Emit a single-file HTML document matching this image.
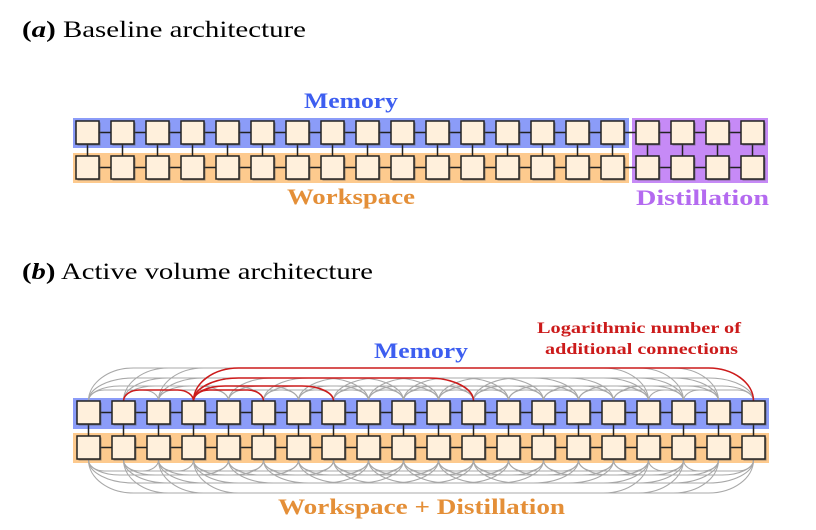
<!DOCTYPE html>
<html><head><meta charset="utf-8"><style>
html,body{margin:0;padding:0;background:#fff}
body{width:816px;height:530px;overflow:hidden}
svg{display:block}
text{font-family:"Liberation Serif",serif}
</style></head><body>
<svg id="s" width="816" height="530" viewBox="0 0 816 530" xmlns="http://www.w3.org/2000/svg">
<text x="22" y="37" font-size="23" textLength="284" lengthAdjust="spacingAndGlyphs"><tspan font-weight="bold">(</tspan><tspan font-weight="bold" font-style="italic">a</tspan><tspan font-weight="bold">)</tspan> Baseline architecture</text>
<text x="22" y="279" font-size="23" textLength="351" lengthAdjust="spacingAndGlyphs"><tspan font-weight="bold">(</tspan><tspan font-weight="bold" font-style="italic">b</tspan><tspan font-weight="bold">)</tspan> Active volume architecture</text>
<rect x="73" y="118" width="556" height="30" fill="#8b9cf8"/>
<rect x="73" y="153" width="556" height="30" fill="#fdca8e"/>
<rect x="632" y="118" width="136" height="65" fill="#c68af6"/>
<rect x="73" y="398" width="696" height="31" fill="#8b9cf8"/>
<rect x="73" y="433" width="696" height="30" fill="#fdca8e"/>
<g id="arcs" fill="none" stroke-width="1.2"></g>
<g id="lines" stroke="#222" stroke-width="1.5"></g>
<g id="boxes"></g>
<text x="304" y="108" font-size="22" font-weight="bold" fill="#3d5ef0" textLength="94" lengthAdjust="spacingAndGlyphs">Memory</text>
<text x="287" y="204" font-size="22" font-weight="bold" fill="#e48f38" textLength="128" lengthAdjust="spacingAndGlyphs">Workspace</text>
<text x="636" y="205" font-size="22" font-weight="bold" fill="#b46af0" textLength="133" lengthAdjust="spacingAndGlyphs">Distillation</text>
<text x="374" y="358" font-size="22" font-weight="bold" fill="#3d5ef0" textLength="94" lengthAdjust="spacingAndGlyphs">Memory</text>
<text x="278" y="514" font-size="22" font-weight="bold" fill="#e48f38" textLength="287" lengthAdjust="spacingAndGlyphs">Workspace + Distillation</text>
<text x="537" y="333" font-size="16" font-weight="bold" fill="#cc1b1b" textLength="204" lengthAdjust="spacingAndGlyphs">Logarithmic number of</text>
<text x="545" y="354" font-size="16" font-weight="bold" fill="#cc1b1b" textLength="193" lengthAdjust="spacingAndGlyphs">additional connections</text>
</svg>
<script>
var NS="http://www.w3.org/2000/svg";
function el(p,t,a){var e=document.createElementNS(NS,t);for(var k in a)e.setAttribute(k,a[k]);document.getElementById(p).appendChild(e);return e;}
function box(x,y){el("boxes","rect",{x:x+1.5,y:y+1.5,width:23,height:23,fill:"#555",opacity:"0.6"});el("boxes","rect",{x:x,y:y,width:23,height:23,fill:"#fff0dc",stroke:"#222","stroke-width":1.5});}
function line(x1,y1,x2,y2){el("lines","line",{x1:x1,y1:y1,x2:x2,y2:y2});}
for(var i=0;i<20;i++){var x=76+i*35;box(x,121);box(x,156);line(x+11.5,144,x+11.5,156);if(i<19){line(x+23,132.5,x+35,132.5);line(x+23,167.5,x+35,167.5);}}
var H={2:11,4:15,8:23,16:33};
function arc(i,j,up,col,w){var x1=77+i*35+11.5,x2=77+j*35+11.5,d=j-i,h=H[d],y0=up?401:460,s=up?-1:1,Y=y0+s*h,r=Math.min(d*17.5*0.45,45),k=0.55;
var p="M"+x1+" "+y0+" C"+x1+" "+(y0+s*h*k)+" "+(x1+r*(1-k))+" "+Y+" "+(x1+r)+" "+Y+" L"+(x2-r)+" "+Y+" C"+(x2-r*(1-k))+" "+Y+" "+x2+" "+(y0+s*h*k)+" "+x2+" "+y0;
el("arcs","path",{d:p,stroke:col,"stroke-width":w});}
[2,4,8,16].forEach(function(d){for(var i=0;i+d<20;i++){arc(i,i+d,true,"#a8a8a8",1.1);arc(i,i+d,false,"#a8a8a8",1.1);}});
[[1,3],[3,5],[3,7],[3,11],[3,19]].forEach(function(p){arc(p[0],p[1],true,"#cc1b1b",1.6);});
for(var i=0;i<20;i++){var x=77+i*35;box(x,401);box(x,436);line(x+11.5,424,x+11.5,436);if(i<19){line(x+23,412.5,x+35,412.5);line(x+23,447.5,x+35,447.5);}}
</script>
</body></html>
